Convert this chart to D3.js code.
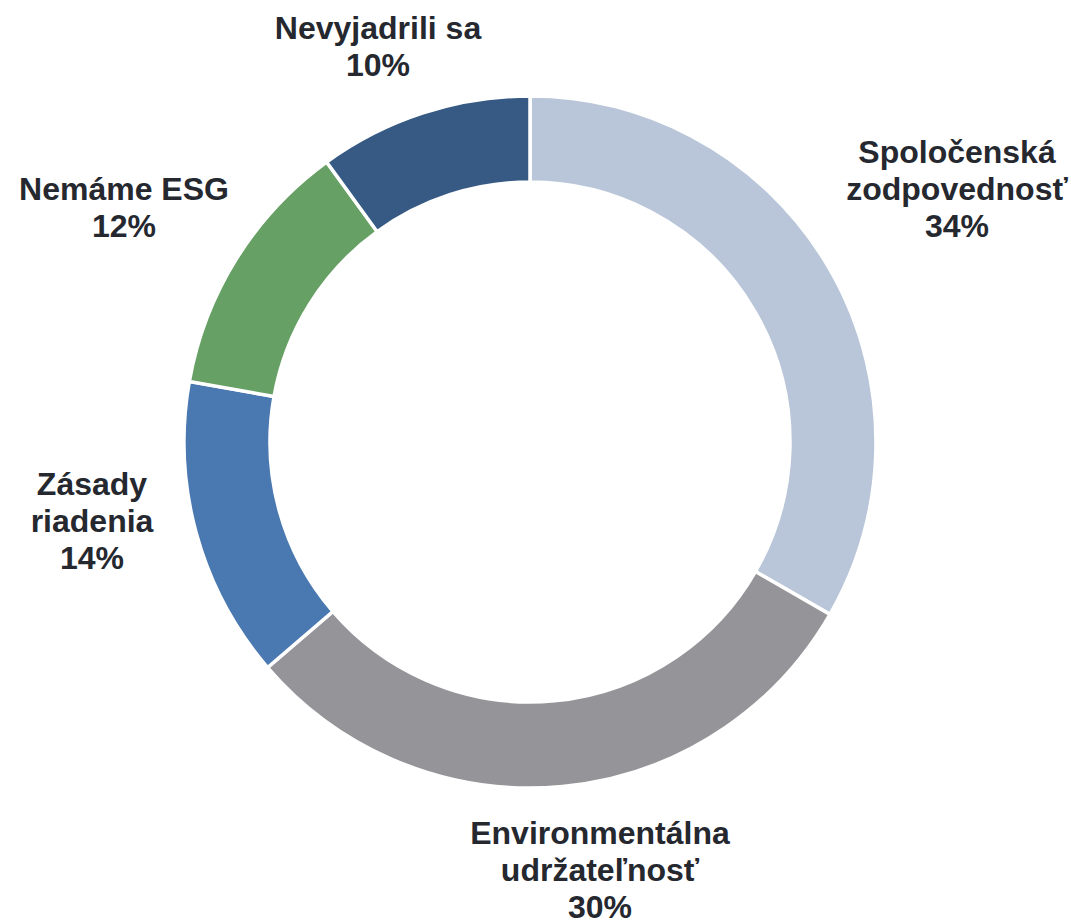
<!DOCTYPE html>
<html>
<head>
<meta charset="utf-8">
<script src="https://cdn.jsdelivr.net/npm/d3@7"></script>
<style>
  body { margin: 0; background: #fff; }
  svg { display: block; }
</style>
</head>
<body>
<div id="chart"></div>
<script>
const width = 1071;
const height = 921;

const categories = ["Spoločenská zodpovednosť", "Environmentálna udržateľnosť", "Zásady riadenia", "Nemáme ESG", "Nevyjadrili sa"];
// slice sizes as measured from the ring (printed labels are rounded)
const values = [33.3, 30.4, 14.1, 12.2, 10.0];
const percentLabels = ["34%", "30%", "14%", "12%", "10%"];
const labelLines = [
  ["Spoločenská", "zodpovednosť"],
  ["Environmentálna", "udržateľnosť"],
  ["Zásady", "riadenia"],
  ["Nemáme ESG"],
  ["Nevyjadrili sa"]
];
const colors = ["#B9C5D8", "#959499", "#4A78B0", "#66A064", "#365A84"];

// label anchor positions (center x, first baseline y)
const labelPos = [[957, 163], [600, 844], [92, 495], [124, 200], [378, 39]];

const cx = 530, cy = 442;
const outerR = 346, innerR = 260;

const svg = d3.select("#chart")
  .append("svg")
  .attr("width", width)
  .attr("height", height);

const g = svg.append("g")
  .attr("transform", `translate(${cx},${cy})`);

const pie = d3.pie().sort(null).value(d => d);
const arc = d3.arc().innerRadius(innerR).outerRadius(outerR);

g.selectAll("path")
  .data(pie(values))
  .join("path")
  .attr("d", arc)
  .attr("fill", (d, i) => colors[i])
  .attr("stroke", "#fff")
  .attr("stroke-width", 3.5);

const labels = svg.selectAll("text.label")
  .data(categories)
  .join("text")
  .attr("class", "label")
  .attr("text-anchor", "middle")
  .attr("font-family", "'Liberation Sans', Arial, sans-serif")
  .attr("font-weight", "bold")
  .attr("font-size", 32)
  .attr("fill", "#25282F");

labels.each(function(d, i) {
  const t = d3.select(this);
  const lines = labelLines[i].concat([percentLabels[i]]);
  lines.forEach((line, j) => {
    t.append("tspan")
      .attr("x", labelPos[i][0])
      .attr("y", labelPos[i][1] + j * 37)
      .text(line);
  });
});
</script>
</body>
</html>
